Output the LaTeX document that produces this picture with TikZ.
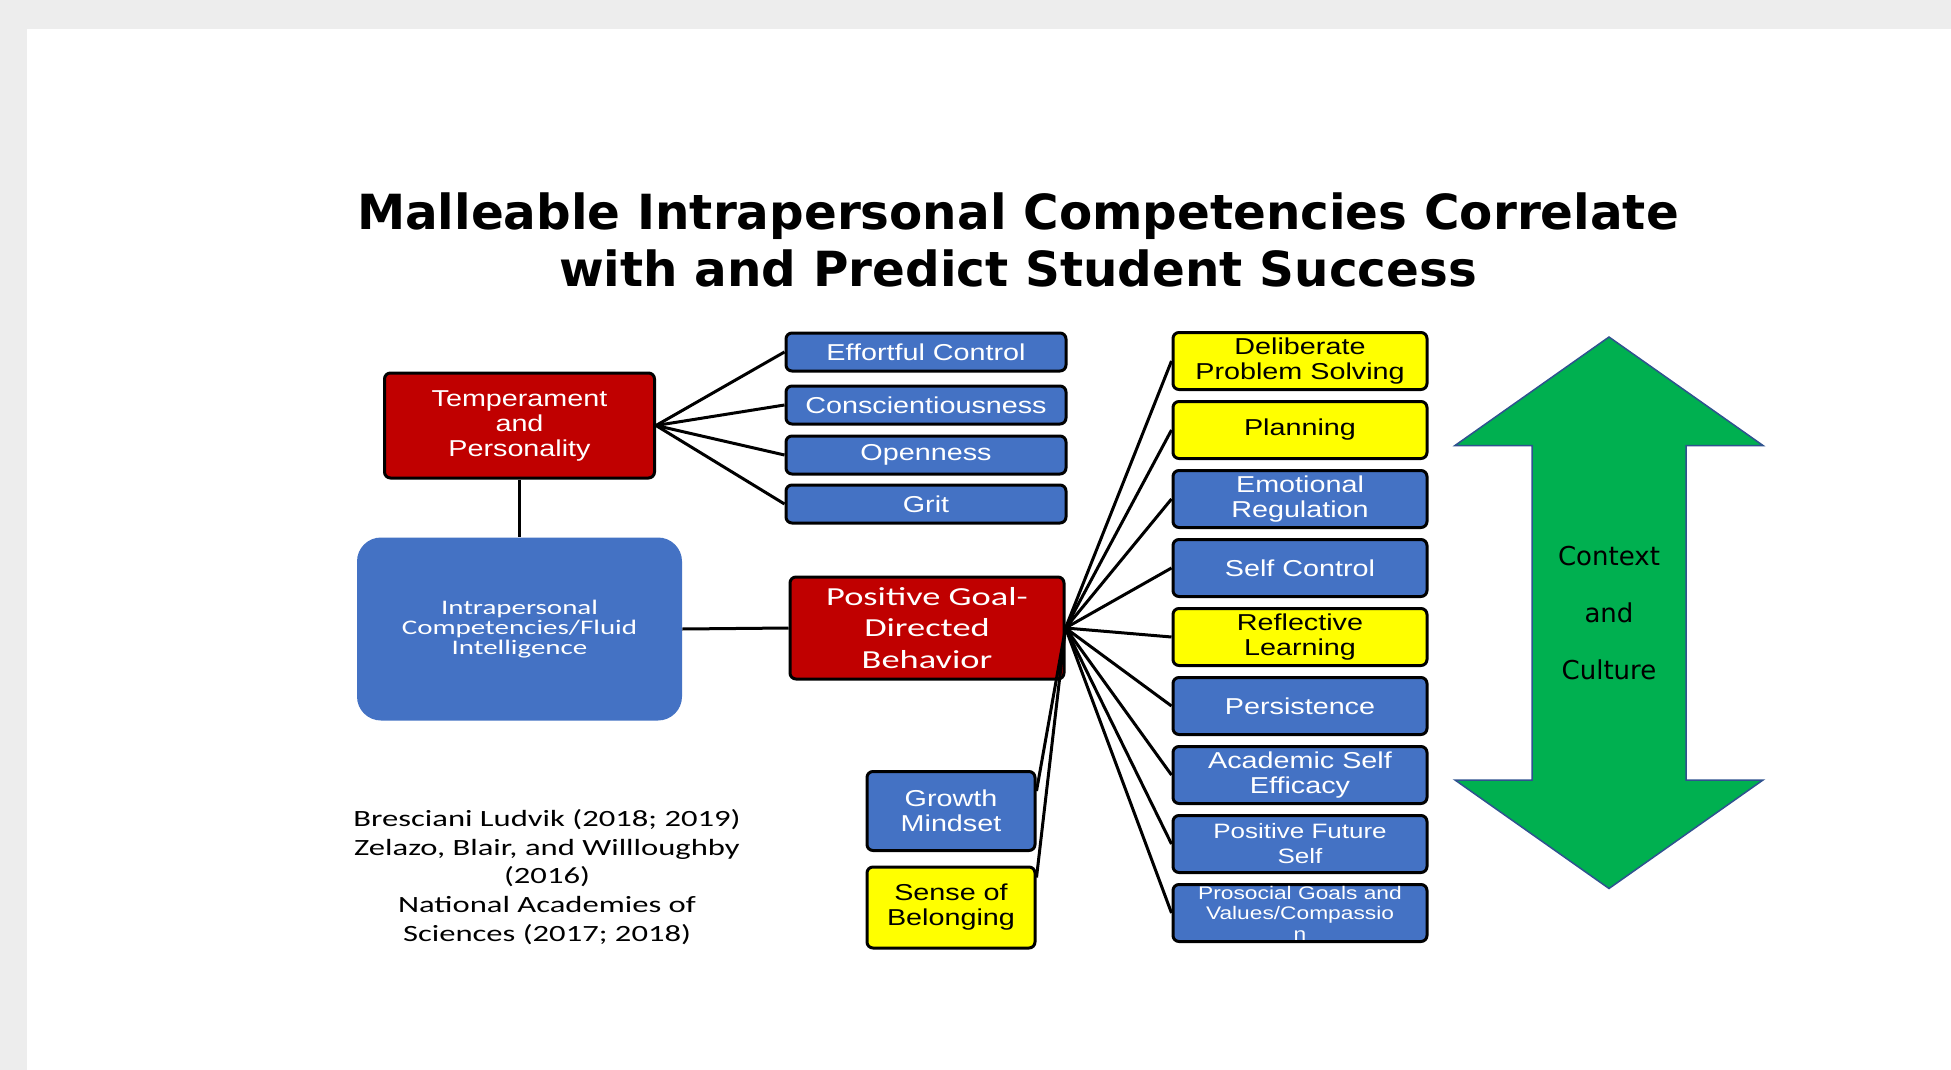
\documentclass[tikz,border=0pt]{standalone}
\usepackage{fontspec}
\setmainfont{Liberation Sans}[FakeStretch=1.25]
\newfontfamily\calibri{Carlito}[FakeStretch=1.4]
\newfontfamily\verdana{DejaVu Sans}
\usetikzlibrary{calc}

\definecolor{slidegrey}{HTML}{EDEDED}
\definecolor{boxred}{HTML}{C00000}
\definecolor{boxblue}{HTML}{4472C4}
\definecolor{boxyellow}{HTML}{FFFF00}
\definecolor{arrowgreen}{HTML}{00B050}
\definecolor{arrowedge}{HTML}{2F528F}

\begin{document}
\begin{tikzpicture}[x=0.5pt,y=-0.5pt,
  box/.style={draw=black,line width=1.5pt,rounded corners=3pt,inner sep=0pt,align=center,
    font=\fontsize{11.5}{12.5}\selectfont},
  redbox/.style={box,fill=boxred,text=white},
  bluebox/.style={box,fill=boxblue,text=white},
  yellowbox/.style={box,fill=boxyellow,text=black},
  trait/.style={bluebox,minimum width=140pt,minimum height=19pt},
  skill/.style={minimum width=127pt,minimum height=28.5pt},
  link/.style={line width=1.5pt}]
\fill[slidegrey] (0,0) rectangle (1951,1070);
\fill[white] (27,29) rectangle (1951,1070);
\useasboundingbox (0,0) rectangle (1951,1070);

\node[font=\verdana\bfseries\fontsize{24.2}{28.5}\selectfont,align=center] (title) at (1018,240)
  {Malleable Intrapersonal Competencies Correlate\\with and Predict Student Success};

% left side
\node[redbox,minimum width=135pt,minimum height=52.5pt] (temper) at (519.5,425.5) {Temperament\\and\\Personality};
\node[fill=boxblue,text=white,rounded corners=12pt,minimum width=162.5pt,minimum height=91.5pt,align=center,
  font=\calibri\fontsize{10.35}{10.2}\selectfont] (intra) at (519.5,629) {Intrapersonal\\Competencies/Fluid\\Intelligence};
\node[redbox,minimum width=137pt,minimum height=51pt,font=\calibri\fontsize{13}{15.8}\selectfont] (goal) at (927,628)
  {Positive Goal-\\Directed\\Behavior};

\node[trait] (effort) at (926,352) {Effortful Control};
\node[trait] (consc) at (926,405) {Conscientiousness};
\node[trait] (open) at (926,455) {Openness};
\node[trait] (grit) at (926,504) {Grit};

\node[bluebox,minimum width=84pt,minimum height=39.5pt] (growth) at (951,811) {Growth\\Mindset};
\node[yellowbox,minimum width=84pt,minimum height=40.5pt] (belong) at (951,907.5) {Sense of\\Belonging};

% right column
\node[yellowbox,skill] (deliberate) at (1300,361) {Deliberate\\Problem Solving};
\node[yellowbox,skill] (plan) at (1300,430) {Planning};
\node[bluebox,skill] (emotion) at (1300,499) {Emotional\\Regulation};
\node[bluebox,skill] (selfctl) at (1300,568) {Self Control};
\node[yellowbox,skill] (reflect) at (1300,637) {Reflective\\Learning};
\node[bluebox,skill] (persist) at (1300,706) {Persistence};
\node[bluebox,skill] (efficacy) at (1300,775) {Academic Self\\Efficacy};
\node[bluebox,skill,font=\fontsize{10.4}{12.5}\selectfont] (future) at (1300,844) {Positive Future\\Self};
\node[bluebox,skill,font=\fontsize{9.1}{10.25}\selectfont] (prosocial) at (1300,913)
  {Prosocial Goals and\\Values/Compassio\\n};

\node[font=\calibri\fontsize{11.65}{14.4}\selectfont,align=center] (refs) at (547,877)
  {Bresciani Ludvik (2018; 2019)\\Zelazo, Blair, and Willloughby\\(2016)\\National Academies of\\Sciences (2017; 2018)};

% context arrow
\draw[fill=arrowgreen,draw=arrowedge,line width=0.75pt] (1609,337) -- (1763,445.5) -- (1686,445.5) -- (1686,780)
  -- (1763,780) -- (1609,888.5) -- (1455,780) -- (1532,780) -- (1532,445.5) -- (1455,445.5) -- cycle;
\node[font=\verdana\fontsize{13}{28.5}\selectfont,align=center] (context) at (1609,613.5) {Context\\and\\Culture};

% links
\draw[link] (temper.south) -- (intra.north);
\draw[link] (intra.east) -- (goal.west);
\draw[link] (temper.east) -- (effort.west);
\draw[link] (temper.east) -- (consc.west);
\draw[link] (temper.east) -- (open.west);
\draw[link] (temper.east) -- (grit.west);
\draw[link] (goal.east) -- ([yshift=10pt]growth.east);
\draw[link] (goal.east) -- ([yshift=15pt]belong.east);
\draw[link] (goal.east) -- (deliberate.west);
\draw[link] (goal.east) -- (plan.west);
\draw[link] (goal.east) -- (emotion.west);
\draw[link] (goal.east) -- (selfctl.west);
\draw[link] (goal.east) -- (reflect.west);
\draw[link] (goal.east) -- (persist.west);
\draw[link] (goal.east) -- (efficacy.west);
\draw[link] (goal.east) -- (future.west);
\draw[link] (goal.east) -- (prosocial.west);
\end{tikzpicture}
\end{document}
